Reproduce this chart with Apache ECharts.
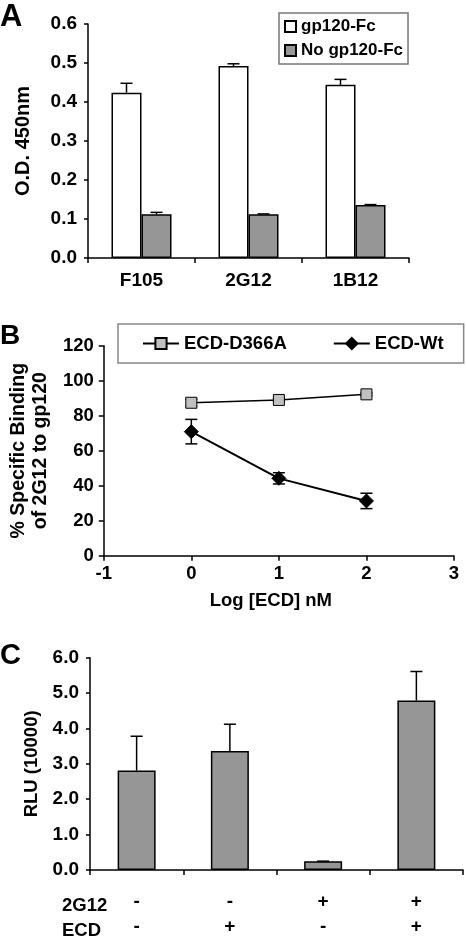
<!DOCTYPE html>
<html><head><meta charset="utf-8">
<script src="https://cdn.jsdelivr.net/npm/echarts@6/dist/echarts.min.js"></script>
<style>html,body{margin:0;padding:0;background:#fff}#c{width:466px;height:939px}</style>
</head><body><div id="c"></div>
<script>
// Panel A
const aCategories = ['F105', '2G12', '1B12'];
const aWithFc = [0.424, 0.492, 0.444];
const aWithFcErr = [0.024, 0.006, 0.014];
const aNoFc = [0.112, 0.112, 0.136];
const aNoFcErr = [0.005, 0.001, 0.001];
const aTicks = [0, 0.1, 0.2, 0.3, 0.4, 0.5, 0.6];
// Panel B
const bX = [0, 1, 2];
const bD366A = [87.4, 89.0, 92.2];
const bD366AErr = [2.0, 0.8, 0.8];
const bWt = [70.9, 44.2, 31.3];
const bWtErr = [7.0, 3.2, 4.4];
const bXTicks = [-1, 0, 1, 2, 3];
const bYTicks = [0, 20, 40, 60, 80, 100, 120];
// Panel C
const c2G12 = ['-', '-', '+', '+'];
const cECD = ['-', '+', '-', '+'];
const cRLU = [2.81, 3.36, 0.25, 4.79];
const cRLUErr = [0.97, 0.76, 0.0, 0.82];
const cTicks = [0, 1, 2, 3, 4, 5, 6];

const FONT = "'Liberation Sans', Arial, sans-serif";
const txt = (size) => ({ fontFamily: FONT, fontWeight: 'bold', fontSize: size, color: '#000' });
const axisLine = { show: true, onZero: false, lineStyle: { color: '#000', width: 1.5 } };
const tick = (len) => ({ show: true, length: len, lineStyle: { color: '#000', width: 1.5 } });

function errRender(offset, both, hw) {
  return function (params, api) {
    const x = api.value(0), y = api.value(1), e = api.value(2);
    const p0 = api.coord([x, y]);
    const pt = api.coord([x, y + e]);
    const pb = api.coord([x, both ? y - e : y]);
    const cx = p0[0] + offset;
    const st = { stroke: '#000', lineWidth: 1.5 };
    const ch = [
      { type: 'line', shape: { x1: cx, y1: pb[1], x2: cx, y2: pt[1] }, style: st },
      { type: 'line', shape: { x1: cx - hw, y1: pt[1], x2: cx + hw, y2: pt[1] }, style: st }
    ];
    if (both) ch.push({ type: 'line', shape: { x1: cx - hw, y1: pb[1], x2: cx + hw, y2: pb[1] }, style: st });
    return { type: 'group', children: ch };
  };
}

const cCategories = c2G12.map((g, i) => g + '\n' + cECD[i]);

const option = {
  animation: false,
  backgroundColor: '#fff',
  grid: [
    { left: 88, top: 24, width: 321, height: 234 },
    { left: 88, top: 345.7, width: 366, height: 210 },
    { left: 90, top: 657.7, width: 373, height: 217.3 }
  ],
  legend: [
    {
      data: ['gp120-Fc', 'No gp120-Fc'],
      orient: 'vertical', left: 279, top: 13,
      itemWidth: 11, itemHeight: 11, itemGap: 7,
      padding: [5, 5, 5, 5],
      borderColor: '#777', borderWidth: 1.5,
      icon: 'rect',
      textStyle: txt(17)
    },
    {
      data: ['ECD-D366A', 'ECD-Wt'],
      orient: 'horizontal', left: 118, top: 324,
      itemWidth: 36, itemHeight: 14, itemGap: 46,
      padding: [10, 20, 10, 24],
      borderColor: '#888', borderWidth: 1.5,
      textStyle: txt(18.5)
    }
  ],
  xAxis: [
    {
      gridIndex: 0, type: 'category', data: aCategories,
      axisLine, axisTick: tick(5),
      axisLabel: Object.assign(txt(19), { margin: 13 })
    },
    {
      gridIndex: 1, type: 'value', min: bXTicks[0], max: bXTicks[bXTicks.length - 1], interval: 1,
      axisLine, axisTick: tick(5), splitLine: { show: false },
      axisLabel: Object.assign(txt(18.5), { margin: 9 }),
      name: 'Log [ECD] nM', nameLocation: 'middle', nameGap: 36,
      nameTextStyle: Object.assign(txt(18.5), { padding: [0, 16, 0, 0] })
    },
    {
      gridIndex: 2, type: 'category', data: cCategories,
      axisLine, axisTick: tick(5),
      axisLabel: Object.assign(txt(19), { margin: 19, lineHeight: 25 })
    }
  ],
  yAxis: [
    {
      gridIndex: 0, type: 'value', min: aTicks[0], max: aTicks[aTicks.length - 1], interval: 0.1,
      axisLine, axisTick: tick(4), splitLine: { show: false },
      axisLabel: Object.assign(txt(19), { margin: 11, formatter: v => v.toFixed(1) }),
      name: 'O.D. 450nm', nameLocation: 'middle', nameGap: 55,
      nameTextStyle: txt(20)
    },
    {
      gridIndex: 1, type: 'value', min: bYTicks[0], max: bYTicks[bYTicks.length - 1], interval: 20,
      axisLine, axisTick: tick(5), splitLine: { show: false },
      axisLabel: Object.assign(txt(18.5), { margin: 10 }),
      name: '% Specific Binding\nof 2G12 to gp120', nameLocation: 'middle', nameGap: 42,
      nameTextStyle: Object.assign(txt(19.5), { lineHeight: 22 })
    },
    {
      gridIndex: 2, type: 'value', min: cTicks[0], max: cTicks[cTicks.length - 1], interval: 1,
      axisLine, axisTick: tick(4), splitLine: { show: false },
      axisLabel: Object.assign(txt(19), { margin: 11, formatter: v => v.toFixed(1) }),
      name: 'RLU (10000)', nameLocation: 'middle', nameGap: 44,
      nameTextStyle: txt(18.5)
    }
  ],
  series: [
    {
      name: 'gp120-Fc', type: 'bar', xAxisIndex: 0, yAxisIndex: 0,
      data: aWithFc, barWidth: 30, barGap: 0,
      itemStyle: { color: '#ffffff', borderColor: '#000', borderWidth: 1.5 }
    },
    {
      name: 'No gp120-Fc', type: 'bar', xAxisIndex: 0, yAxisIndex: 0,
      data: aNoFc, barWidth: 30, barGap: 0,
      itemStyle: { color: '#969696', borderColor: '#000', borderWidth: 1.5 }
    },
    {
      type: 'custom', xAxisIndex: 0, yAxisIndex: 0, z: 5,
      renderItem: errRender(-15, false, 6),
      data: aWithFc.map((v, i) => [i, v, aWithFcErr[i]])
    },
    {
      type: 'custom', xAxisIndex: 0, yAxisIndex: 0, z: 5,
      renderItem: errRender(15, false, 6),
      data: aNoFc.map((v, i) => [i, v, aNoFcErr[i]])
    },
    {
      type: 'custom', xAxisIndex: 1, yAxisIndex: 1, z: 1,
      renderItem: errRender(0, true, 6),
      data: bX.map((x, i) => [x, bD366A[i], bD366AErr[i]])
    },
    {
      type: 'custom', xAxisIndex: 1, yAxisIndex: 1, z: 1,
      renderItem: errRender(0, true, 6),
      data: bX.map((x, i) => [x, bWt[i], bWtErr[i]])
    },
    {
      name: 'ECD-D366A', type: 'line', xAxisIndex: 1, yAxisIndex: 1, z: 3,
      data: bX.map((x, i) => [x, bD366A[i]]),
      symbol: 'rect', symbolSize: 11,
      lineStyle: { color: '#000', width: 1.5 },
      itemStyle: { color: '#c0c0c0', borderColor: '#000', borderWidth: 1 }
    },
    {
      name: 'ECD-Wt', type: 'line', xAxisIndex: 1, yAxisIndex: 1, z: 3,
      data: bX.map((x, i) => [x, bWt[i]]),
      symbol: 'diamond', symbolSize: 14,
      lineStyle: { color: '#000', width: 2 },
      itemStyle: { color: '#000', borderColor: '#000', borderWidth: 1 }
    },
    {
      type: 'bar', xAxisIndex: 2, yAxisIndex: 2,
      data: cRLU, barWidth: 38,
      itemStyle: { color: '#969696', borderColor: '#000', borderWidth: 1.5 }
    },
    {
      type: 'custom', xAxisIndex: 2, yAxisIndex: 2, z: 5,
      renderItem: errRender(0, false, 6),
      data: cRLU.map((v, i) => [i, v, cRLUErr[i]])
    }
  ],
  graphic: [
    { type: 'text', left: 0, top: 2, style: { text: 'A', font: "bold 31px 'Liberation Sans', Arial, sans-serif", fill: '#000' } },
    { type: 'text', left: 0, top: 322, style: { text: 'B', font: "bold 28px 'Liberation Sans', Arial, sans-serif", fill: '#000' } },
    { type: 'text', left: 0, top: 641, style: { text: 'C', font: "bold 29px 'Liberation Sans', Arial, sans-serif", fill: '#000' } },
    { type: 'text', left: 62, top: 896, style: { text: '2G12', font: "bold 18.5px 'Liberation Sans', Arial, sans-serif", fill: '#000' } },
    { type: 'text', left: 62, top: 921, style: { text: 'ECD', font: "bold 18.5px 'Liberation Sans', Arial, sans-serif", fill: '#000' } }
  ]
};

const chart = echarts.init(document.getElementById('c'), null, { renderer: 'canvas' });
chart.setOption(option);
</script>
</body></html>
